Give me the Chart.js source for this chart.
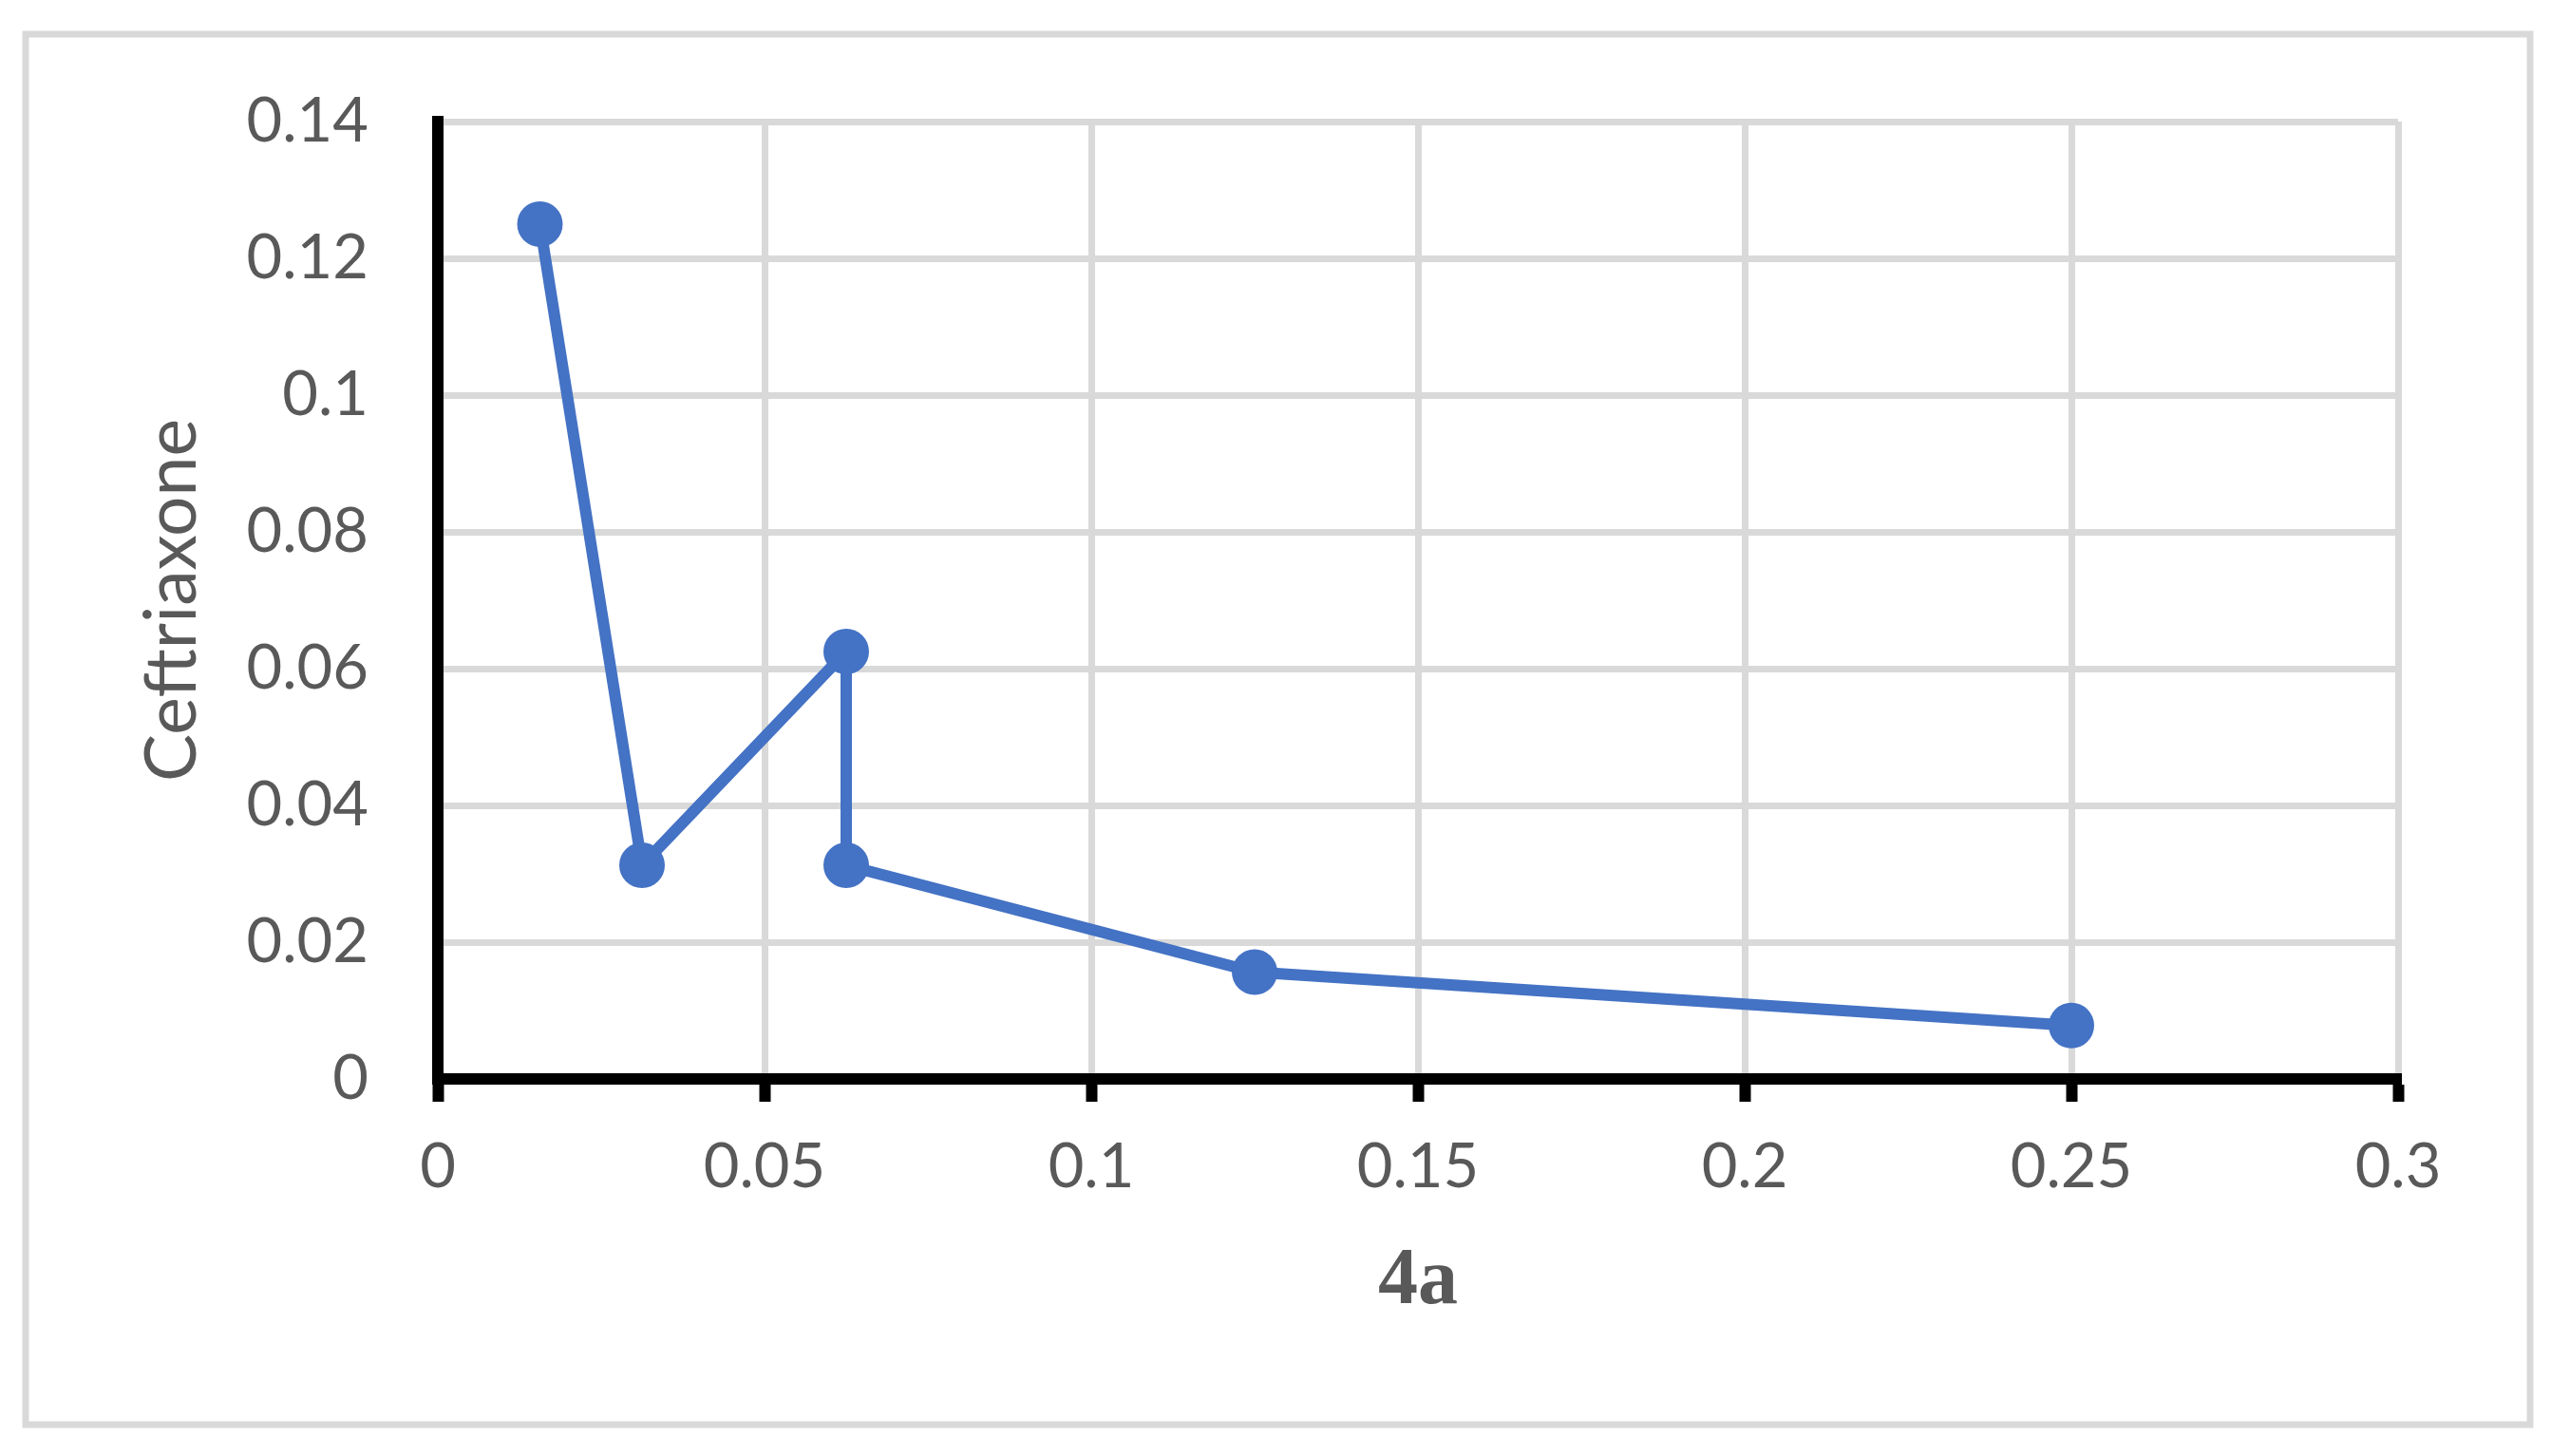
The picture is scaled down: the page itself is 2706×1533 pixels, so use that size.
<!DOCTYPE html>
<html>
<head>
<meta charset="utf-8">
<script src="https://cdn.jsdelivr.net/npm/chart.js@4/dist/chart.umd.min.js"></script>
<style>
  html, body { margin: 0; padding: 0; background: #fff; }
  canvas { display: block; }
</style>
</head>
<body>
<canvas id="myChart" width="2706" height="1533"></canvas>
<script>
// values (4a vs Ceftriaxone)
const xValues = [0.015625, 0.03125, 0.0625, 0.0625, 0.125, 0.25];
const yValues = [0.125, 0.03125, 0.0625, 0.03125, 0.015625, 0.0078125];
const xTicks = [0, 0.05, 0.1, 0.15, 0.2, 0.25, 0.3];
const yTicks = [0, 0.02, 0.04, 0.06, 0.08, 0.1, 0.12, 0.14];
const xTitle = '4a';
const yTitle = 'Ceftriaxone';

const blue = '#4472C4';
const grey = '#595959';
const gridGrey = '#d9d9d9';

const points = xValues.map((x, i) => ({x: x, y: yValues[i]}));

// white background + light grey frame round the whole chart
const frame = {
    id: 'frame',
    beforeDraw(chart) {
        const c = chart.ctx;
        c.save();
        c.fillStyle = '#fff';
        c.fillRect(0, 0, chart.width, chart.height);
        c.strokeStyle = gridGrey;
        c.lineWidth = 7;
        c.strokeRect(27, 36, 2664 - 27, 1500 - 36);
        c.restore();
    }
};

const ctx = document.getElementById('myChart').getContext('2d');
new Chart(ctx, {
    type: 'scatter',
    data: {
        datasets: [{
            data: points,
            showLine: true,
            borderColor: blue,
            backgroundColor: blue,
            borderWidth: 12,
            pointRadius: 24,
            pointBorderWidth: 0,
            pointBackgroundColor: blue,
            tension: 0
        }]
    },
    options: {
        responsive: false,
        devicePixelRatio: 1,
        animation: false,
        layout: { padding: { left: 0, right: 181, top: 128, bottom: 0 } },
        plugins: {
            legend: { display: false },
            tooltip: { enabled: false }
        },
        scales: {
            x: {
                type: 'linear',
                min: 0,
                max: 0.3,
                afterBuildTicks: s => { s.ticks = xTicks.map(v => ({value: v})); },
                afterFit: s => { s.height = 1533 - 1136; }, // pin plot bottom
                grid: {
                    color: gridGrey,
                    lineWidth: 7,
                    drawTicks: true,
                    tickLength: 24,
                    tickColor: '#000',
                    tickWidth: 12
                },
                border: { display: true, color: '#000', width: 12 },
                ticks: {
                    color: grey,
                    padding: 30,
                    maxRotation: 0,
                    font: { family: 'Lato', size: 65 },
                    callback: v => String(v)
                },
                title: {
                    display: true,
                    text: xTitle,
                    color: grey,
                    font: { family: 'Liberation Serif', size: 84, weight: 'bold' },
                    padding: { top: 0, bottom: 132 }
                }
            },
            y: {
                type: 'linear',
                min: 0,
                max: 0.14,
                afterBuildTicks: s => { s.ticks = yTicks.map(v => ({value: v})); },
                afterFit: s => { s.width = 461; }, // pin plot left edge
                grid: {
                    color: gridGrey,
                    lineWidth: 7,
                    drawTicks: false
                },
                border: { display: true, color: '#000', width: 12 },
                ticks: {
                    color: grey,
                    padding: 73,
                    font: { family: 'Lato', size: 65 },
                    callback: v => String(v)
                },
                title: {
                    display: true,
                    text: yTitle,
                    color: grey,
                    font: { family: 'Lato', size: 75 },
                    padding: { top: 137, bottom: 0 }
                }
            }
        }
    },
    plugins: [frame]
});
</script>
</body>
</html>
